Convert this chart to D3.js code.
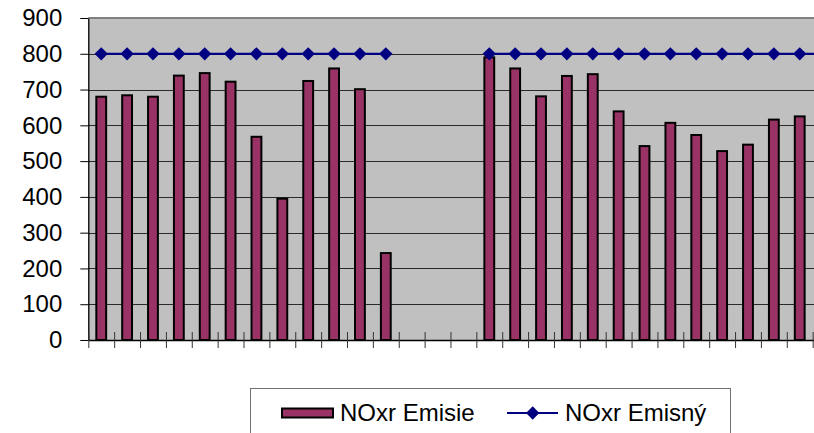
<!DOCTYPE html>
<html>
<head>
<meta charset="utf-8">
<script src="https://cdn.jsdelivr.net/npm/d3@7"></script>
<style>
  html, body { margin: 0; padding: 0; background: #ffffff; overflow: hidden; }
  svg { display: block; font-family: "Liberation Sans", Arial, sans-serif; }
</style>
</head>
<body>
<svg id="chart" width="814" height="433"></svg>
<script>
// ---- data ----
const categories = d3.range(1, 30).map(String); // 29 slots, labels not shown in the original
const emisie = [680, 684, 680, 739, 746, 722, 568, 395, 724, 759, 701, 243,
                null, null, null,
                790, 759, 681, 738, 743, 639, 542, 607, 573, 528, 546, 616, 625,
                null];
const emisny = [800, 800, 800, 800, 800, 800, 800, 800, 800, 800, 800, 800,
                null, null, null,
                800, 800, 800, 800, 800, 800, 800, 800, 800, 800, 800, 800, 800,
                800];
const yTicks = [0, 100, 200, 300, 400, 500, 600, 700, 800, 900];
const seriesNames = ["NOxr Emisie", "NOxr Emisný"];

// ---- layout ----
const plotLeft = 88.3, plotTop = 18, plotBottom = 340;
const step = 25.87;
const plotW = step * categories.length;
const svg = d3.select("#chart");

const x = d3.scaleBand().domain(categories).range([plotLeft, plotLeft + plotW]).padding(0);
const xi = d3.scaleLinear().domain([0, categories.length]).range([plotLeft, plotLeft + plotW]);
const y = d3.scaleLinear().domain([0, 900]).range([plotBottom, plotTop]);

// plot background
svg.append("rect")
  .attr("x", plotLeft).attr("y", plotTop)
  .attr("width", plotW).attr("height", plotBottom - plotTop)
  .attr("fill", "#c0c0c0");

// gridlines
svg.append("g").selectAll("line")
  .data(yTicks.filter(v => v > 0 && v < 900))
  .join("line")
  .attr("x1", plotLeft).attr("x2", plotLeft + plotW)
  .attr("y1", d => Math.round(y(d)) + 0.5).attr("y2", d => Math.round(y(d)) + 0.5)
  .attr("stroke", "#2a2a2a").attr("stroke-width", 1);

// top border
svg.append("line")
  .attr("x1", plotLeft).attr("x2", plotLeft + plotW)
  .attr("y1", plotTop).attr("y2", plotTop)
  .attr("stroke", "#808080").attr("stroke-width", 2);

// bars
const bw = x.bandwidth() * 0.38;
svg.append("g").selectAll("rect")
  .data(categories.map((c, i) => ({ c, v: emisie[i] })).filter(d => d.v != null))
  .join("rect")
  .attr("x", d => x(d.c) + (x.bandwidth() - bw) / 2)
  .attr("y", d => y(d.v))
  .attr("width", bw)
  .attr("height", d => y(0) - y(d.v))
  .attr("fill", "#993366")
  .attr("stroke", "#000")
  .attr("stroke-width", 2);

// line series
const cx = c => x(c) + x.bandwidth() / 2;
const lineData = categories.map((c, i) => ({ c, v: emisny[i] }));
svg.append("path")
  .datum(lineData)
  .attr("fill", "none")
  .attr("stroke", "#000080")
  .attr("stroke-width", 2.2)
  .attr("d", d3.line().defined(d => d.v != null).x(d => cx(d.c)).y(d => y(d.v)));

const diamond = d3.symbol().type(d3.symbolSquare).size(88);
svg.append("g").selectAll("path")
  .data(lineData.filter(d => d.v != null))
  .join("path")
  .attr("d", diamond)
  .attr("transform", d => `translate(${cx(d.c)},${y(d.v)}) rotate(45)`)
  .attr("fill", "#000080");

// y axis
const yAxis = svg.append("g")
  .attr("transform", `translate(${plotLeft},0)`)
  .call(d3.axisLeft(y).tickValues(yTicks).tickSize(8).tickPadding(18).tickSizeOuter(0));
yAxis.select(".domain").attr("stroke", "#000").attr("stroke-width", 1.3);
yAxis.selectAll(".tick line").attr("stroke", "#000");
yAxis.selectAll("text").attr("font-size", 24).attr("fill", "#000")
  .attr("font-family", "'Liberation Sans', Arial, sans-serif");

// x axis (ticks between categories, crossing the axis)
const xAxis = svg.append("g")
  .attr("transform", `translate(0,${plotBottom})`)
  .call(d3.axisBottom(xi).tickValues(d3.range(0, categories.length + 1)).tickSize(8).tickFormat("").tickSizeOuter(0));
xAxis.select(".domain").attr("stroke", "#000").attr("stroke-width", 1.3);
xAxis.selectAll(".tick line").attr("y1", -8).attr("stroke", "#333");

// legend
const lg = svg.append("g");
lg.append("rect")
  .attr("x", 250.5).attr("y", 388.5)
  .attr("width", 480).attr("height", 70)
  .attr("fill", "#fff").attr("stroke", "#707070").attr("stroke-width", 1);
lg.append("rect")
  .attr("x", 282).attr("y", 408.5).attr("width", 51).attr("height", 9)
  .attr("fill", "#993366").attr("stroke", "#000").attr("stroke-width", 2);
lg.append("text").attr("x", 340).attr("y", 413).attr("dy", "0.35em")
  .attr("font-size", 24).attr("fill", "#000").text(seriesNames[0]);
lg.append("line")
  .attr("x1", 507).attr("x2", 558).attr("y1", 413).attr("y2", 413)
  .attr("stroke", "#000080").attr("stroke-width", 2.2);
lg.append("path").attr("d", diamond)
  .attr("transform", "translate(532.7,413) rotate(45)")
  .attr("fill", "#000080");
lg.append("text").attr("x", 565).attr("y", 413).attr("dy", "0.35em")
  .attr("font-size", 24).attr("fill", "#000").text(seriesNames[1]);
</script>
</body>
</html>
